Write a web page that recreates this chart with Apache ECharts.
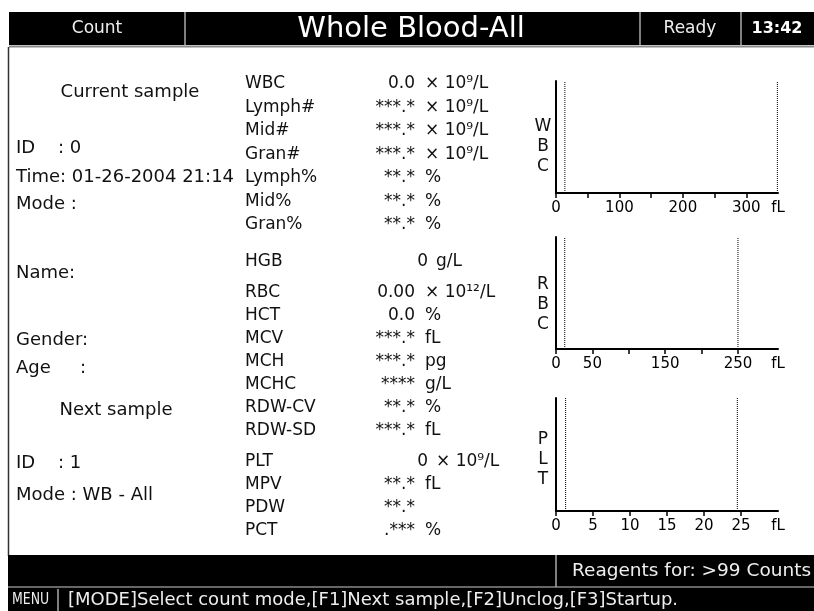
<!DOCTYPE html>
<html><head><meta charset="utf-8">
<script src="https://cdn.jsdelivr.net/npm/echarts@6/dist/echarts.min.js"></script>
<style>html,body{margin:0;padding:0;background:#fff}#c{width:814px;height:611px}</style>
</head><body><div id="c"></div>
<script>
// ---- data ----
const wbcParams = ['WBC', 'Lymph#', 'Mid#', 'Gran#', 'Lymph%', 'Mid%', 'Gran%'];
const wbcValues = ['0.0', '***.*', '***.*', '***.*', '**.*', '**.*', '**.*'];
const wbcUnits  = ['× 10⁹/L', '× 10⁹/L', '× 10⁹/L', '× 10⁹/L', '%', '%', '%'];
const hgbParams = ['HGB'];
const hgbValues = ['0'];
const hgbUnits  = ['g/L'];
const rbcParams = ['RBC', 'HCT', 'MCV', 'MCH', 'MCHC', 'RDW-CV', 'RDW-SD'];
const rbcValues = ['0.00', '0.0', '***.*', '***.*', '****', '**.*', '***.*'];
const rbcUnits  = ['× 10¹²/L', '%', 'fL', 'pg', 'g/L', '%', 'fL'];
const pltParams = ['PLT', 'MPV', 'PDW', 'PCT'];
const pltValues = ['0', '**.*', '**.*', '.***'];
const pltUnits  = ['× 10⁹/L', 'fL', '', '%'];

const wbcTicks = [0, 50, 100, 150, 200, 250, 300];
const wbcTickLabels = [0, 100, 200, 300];
const wbcMax = 350;
const wbcDiscriminators = [14, 349];

const rbcTicks = [0, 50, 100, 150, 200, 250];
const rbcTickLabels = [0, 50, 150, 250];
const rbcMax = 305;
const rbcDiscriminators = [12, 250];

const pltTicks = [0, 5, 10, 15, 20, 25];
const pltTickLabels = [0, 5, 10, 15, 20, 25];
const pltMax = 30;
const pltDiscriminators = [1.3, 24.5];

// ---- chart ----
const chart = echarts.init(document.getElementById('c'), null, {renderer: 'canvas'});
const FONT = 'DejaVu Sans';
const hist = [
  {letters: ['W', 'B', 'C'], letterY: 127, top: 81, height: 112, ticks: wbcTicks, labels: wbcTickLabels, max: wbcMax, lines: wbcDiscriminators},
  {letters: ['R', 'B', 'C'], letterY: 285, top: 237, height: 112, ticks: rbcTicks, labels: rbcTickLabels, max: rbcMax, lines: rbcDiscriminators},
  {letters: ['P', 'L', 'T'], letterY: 440, top: 398, height: 113, ticks: pltTicks, labels: pltTickLabels, max: pltMax, lines: pltDiscriminators}
];
const grid = [], xAxis = [], yAxis = [], series = [];
hist.forEach((h, i) => {
  grid.push({left: 556, width: 222, top: h.top, height: h.height});
  xAxis.push({
    type: 'value', gridIndex: i, min: 0, max: h.max,
    axisLine: {show: true, lineStyle: {color: '#000', width: 2}},
    axisTick: {show: true, customValues: h.ticks, length: 5, lineStyle: {color: '#000', width: 1.5}},
    axisLabel: {show: true, customValues: h.labels.concat([h.max]), margin: 8,
      formatter: v => (v === h.max ? 'fL' : String(v)),
      color: '#000', fontFamily: FONT, fontSize: 15},
    splitLine: {show: false}
  });
  yAxis.push({
    type: 'value', gridIndex: i, min: 0, max: 1,
    axisLine: {show: true, lineStyle: {color: '#000', width: 2}},
    axisTick: {show: false}, axisLabel: {show: false}, splitLine: {show: false}
  });
  h.lines.forEach(x => {
    series.push({
      type: 'line', xAxisIndex: i, yAxisIndex: i, data: [[x, 0], [x, 1]],
      showSymbol: false, silent: true, animation: false,
      lineStyle: {color: '#000', width: 1, type: [1, 1]}
    });
  });
});

// ---- screen text / frame ----
const g = [];
const T = (text, x, y, opt, extra) => g.push(Object.assign({type: 'text', x, y, silent: true,
  style: Object.assign({text, fill: '#111', font: '17px "' + FONT + '"', textVerticalAlign: 'middle', textAlign: 'left'}, opt || {})}, extra || {}));
const L = (x1, y1, x2, y2, stroke, w) => g.push({type: 'line', silent: true, shape: {x1, y1, x2, y2}, style: {stroke, lineWidth: w}});
const R = (x, y, width, height, fill) => g.push({type: 'rect', silent: true, shape: {x, y, width, height}, style: {fill}});
const F18 = {font: '18px "' + FONT + '"'};

// histogram side letters
hist.forEach(h => h.letters.forEach((c, k) => T(c, 543, h.letterY + k * 20, {textAlign: 'center'})));

// top bar
R(9, 12, 805, 33, '#000');
L(185, 12, 185, 45, '#aaa', 1.5);
L(640, 12, 640, 45, '#aaa', 1.5);
L(741, 12, 741, 45, '#aaa', 1.5);
L(9, 46.5, 814, 46.5, '#888', 2);
T('Count', 97, 29, {fill: '#eee', textAlign: 'center'});
T('Whole Blood-All', 411, 29, {fill: '#fff', textAlign: 'center', font: '29px "' + FONT + '"'});
T('Ready', 690, 29, {fill: '#eee', textAlign: 'center'});
T('13:42', 777, 29, {fill: '#fff', textAlign: 'center', font: 'bold 16px "' + FONT + '"'});
// panel border
L(8.5, 47, 8.5, 556, '#333', 1.5);
// bottom bars
R(8, 555, 806, 56, '#000');
L(8, 587, 814, 587, '#888', 1.5);
L(556, 555, 556, 587, '#aaa', 1.5);
L(58, 589, 58, 611, '#aaa', 1.5);
T('Reagents for: >99 Counts', 572, 571, {fill: '#eee', font: '18.5px "' + FONT + '"'});
T('MENU', 12, 600, {fill: '#eee', font: '16px "' + FONT + '"'}, {scaleX: 0.78});
T('[MODE]Select count mode,[F1]Next sample,[F2]Unclog,[F3]Startup.', 68, 600, {fill: '#eee', font: '18px "' + FONT + '"'});

// left column
T('Current sample', 130, 92, Object.assign({textAlign: 'center'}, F18));
T('ID', 16, 148, F18); T(': 0', 58, 148, F18);
T('Time: 01-26-2004 21:14', 16, 177, F18);
T('Mode :', 16, 204, F18);
T('Name:', 16, 273, F18);
T('Gender:', 16, 340, F18);
T('Age', 16, 368, F18); T(':', 80, 368, F18);
T('Next sample', 116, 410, Object.assign({textAlign: 'center'}, F18));
T('ID', 16, 463, F18); T(': 1', 58, 463, F18);
T('Mode : WB - All', 16, 495, F18);

// parameter column
function block(params, values, units, y0, step) {
  params.forEach((p, i) => {
    const y = y0 + i * step;
    T(p, 245, y);
    const isInt = /^\d+$/.test(values[i]);
    T(values[i], isInt ? 428 : 415, y, {textAlign: 'right'});
    if (units[i]) T(units[i], isInt ? 436 : 425, y);
  });
}
block(wbcParams, wbcValues, wbcUnits, 84, 23.5);
block(hgbParams, hgbValues, hgbUnits, 262, 0);
block(rbcParams, rbcValues, rbcUnits, 293, 23);
block(pltParams, pltValues, pltUnits, 462, 23);

chart.setOption({
  animation: false,
  backgroundColor: '#fff',
  grid, xAxis, yAxis, series,
  graphic: {elements: g}
});
</script>
</body></html>
